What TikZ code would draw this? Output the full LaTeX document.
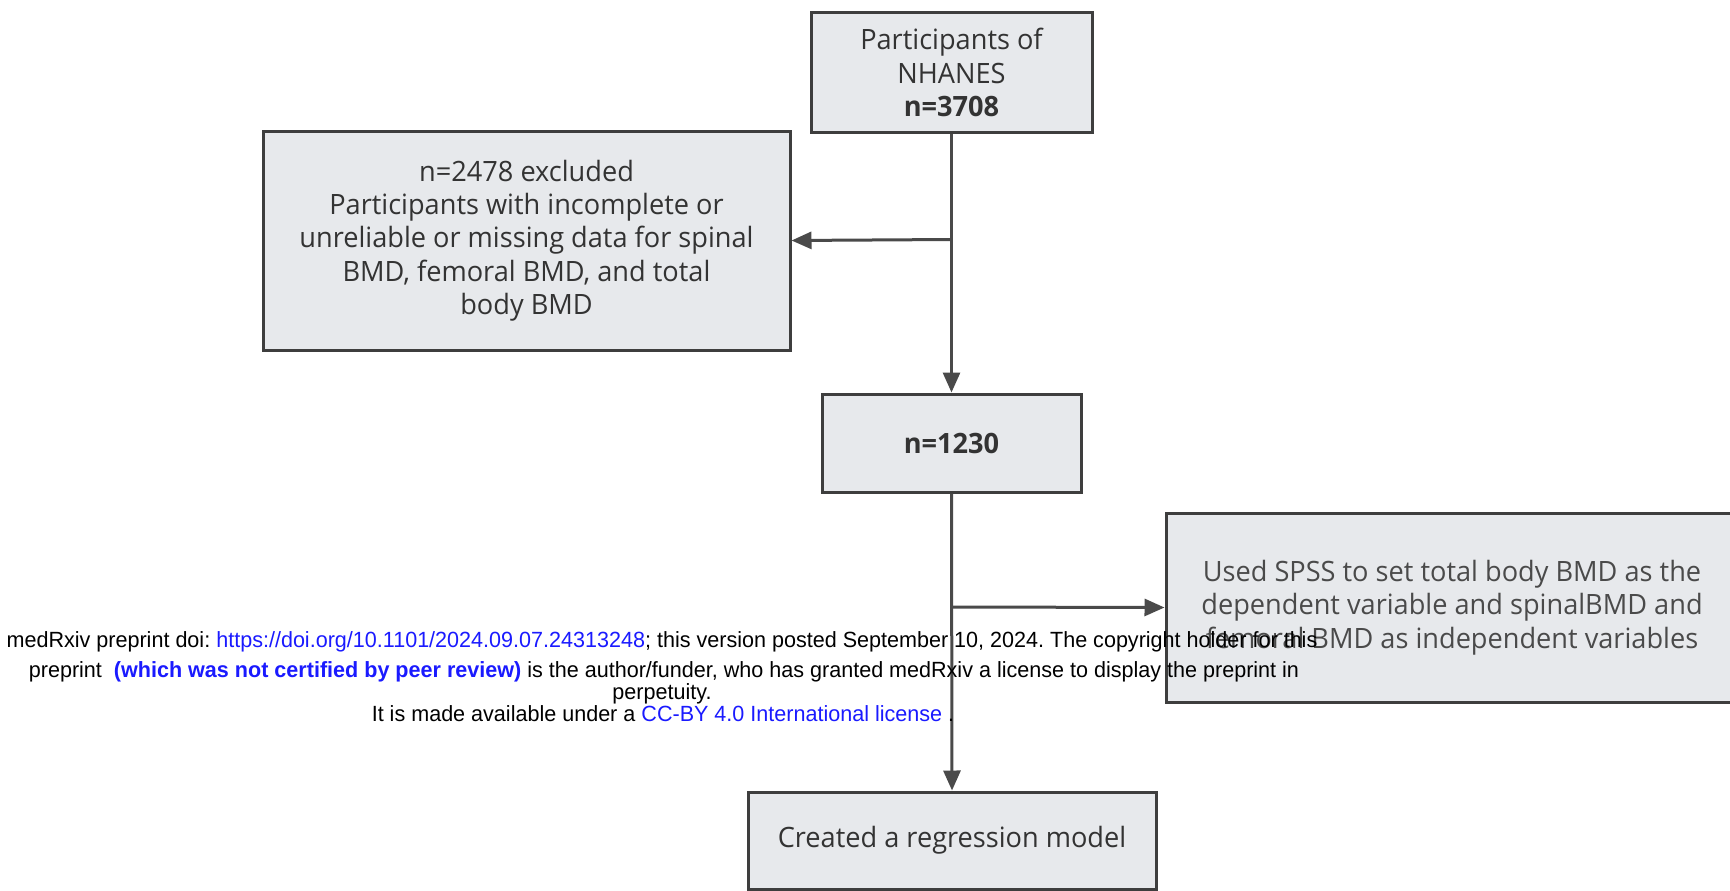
\documentclass[tikz,border=0pt]{standalone}
\usepackage{fontspec}
\usetikzlibrary{arrows.meta}
\frenchspacing
\newfontfamily\boxfont[FakeStretch=0.97]{Open Sans}
\newfontfamily\wmfont[FakeStretch=0.98]{Liberation Sans}
\definecolor{boxfill}{HTML}{E7E9EC}
\definecolor{boxdraw}{HTML}{3E3E3E}
\definecolor{boxtext}{HTML}{333333}
\definecolor{boxtextlight}{HTML}{4A4A4A}
\definecolor{conncol}{HTML}{4A4A4A}
\definecolor{linkblue}{HTML}{1A1AFF}
\tikzset{
  box/.style={draw=boxdraw, line width=3pt, fill=boxfill, text=boxtext,
    font=\boxfont\fontsize{28}{33.3}\selectfont, align=center, inner sep=0pt},
  conn/.style={draw=conncol, line width=3pt, -{Triangle[length=20pt,width=17pt]}},
  wm/.style={font=\wmfont\fontsize{22}{23}\selectfont, inner sep=0pt, anchor=base}
}
\begin{document}
\begin{tikzpicture}[x=1pt,y=-1pt]
\useasboundingbox (0,0) rectangle (1730,891);
\node[box, minimum width=281pt, minimum height=119pt] (b1) at (951.5,72.5)
  {Participants of\\NHANES\\\textbf{n=3708}};
\node[box, minimum width=527pt, minimum height=219pt] (b2) at (526.5,240.5)
  {n=2478 excluded\\Participants with incomplete or\\unreliable or missing data for spinal\\BMD, femoral BMD, and total\\body BMD};
\node[box, minimum width=259pt, minimum height=98pt] (b3) at (951.5,443)
  {\textbf{n=1230}};
\node[box, text=boxtextlight, minimum width=572pt, minimum height=189pt] (b4) at (1452,607.5)
  {Used SPSS to set total body BMD as the\\dependent variable and spinalBMD and\\femoral BMD as independent variables};
\node[box, minimum width=408pt, minimum height=97pt] (b5) at (952,840.5)
  {Created a regression model};
\coordinate (j1) at (952,239.5);
\coordinate (j2) at (952,607);
\draw[conn] (b1.south) -- (b3.north);
\draw[conn] (j1) -- (b2.east);
\draw[conn] (b3.south) -- (b5.north);
\draw[conn] (j2) -- (b4.west);
\node[wm] (w1) at (662,647) {medRxiv preprint doi: {\color{linkblue}https://doi.org/10.1101/2024.09.07.24313248}; this version posted September 10, 2024. The copyright holder for this};
\node[wm] (w2) at (664,677) {preprint \ {\color{linkblue}\bfseries(which was not certified by peer review)} is the author/funder, who has granted medRxiv a license to display the preprint in};
\node[wm] (w3) at (662,699) {perpetuity.};
\node[wm] (w4) at (663,721) {It is made available under a {\color{linkblue}CC-BY 4.0 International license} .};
\end{tikzpicture}
\end{document}
